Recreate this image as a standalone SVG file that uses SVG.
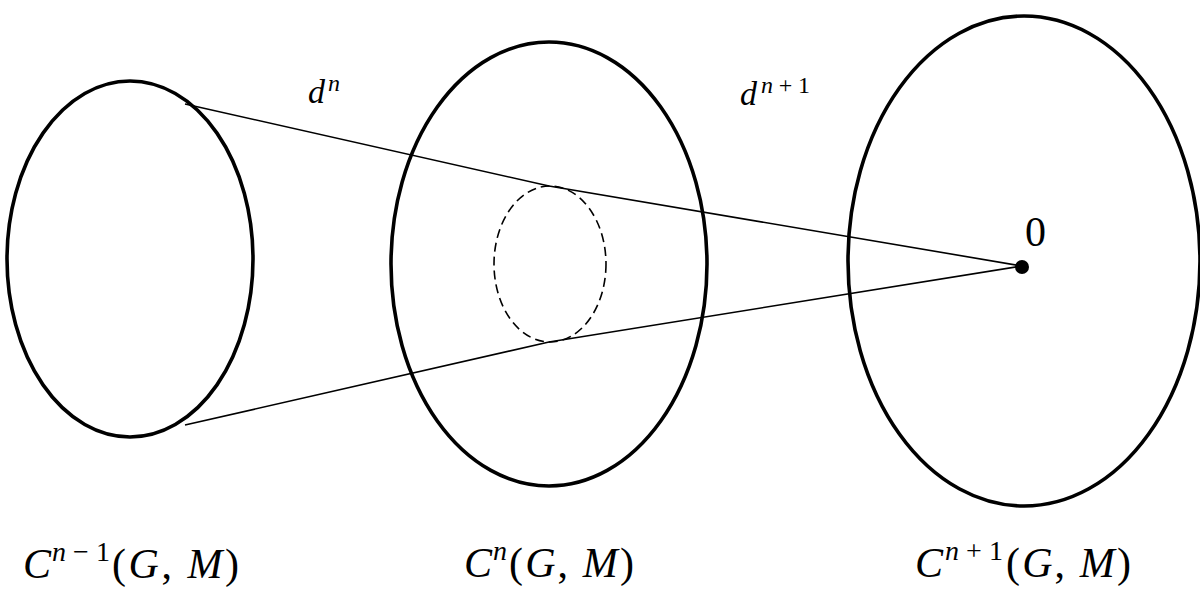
<svg xmlns="http://www.w3.org/2000/svg" width="1200" height="609" viewBox="0 0 1200 609">
<style>
.big{fill:none;stroke:#000;stroke-width:3.6}
.dash{fill:none;stroke:#000;stroke-width:1.6;stroke-dasharray:9 5}
.ln{fill:none;stroke:#000;stroke-width:1.6}
text{font-family:"Liberation Serif","DejaVu Serif",serif;fill:#000}
.it{font-style:italic}
.lab{font-size:42px}
.sup{font-size:28px}
.dl{font-size:34px}
.ds{font-size:24px}
</style>
<rect width="1200" height="609" fill="#fff"/>
<g id="connectors">
<polyline class="ln" points="185,104 549,186 1022,266"/>
<polyline class="ln" points="185,425 549,342 1022,266"/>
</g>
<g id="node-cn-1">
<ellipse class="big" cx="130" cy="259" rx="123" ry="178"/>
<text class="lab it" x="23" y="578">C</text>
<text class="sup" x="52" y="561" textLength="58" lengthAdjust="spacing"><tspan class="it">n</tspan>−1</text>
<text class="lab" x="112" y="578" textLength="127" lengthAdjust="spacing">(<tspan class="it">G</tspan>, <tspan class="it">M</tspan>)</text>
</g>
<g id="node-cn">
<ellipse class="big" cx="549" cy="264" rx="158" ry="222"/>
<ellipse class="dash" cx="550" cy="264" rx="56" ry="78"/>
<text class="lab it" x="464" y="577">C</text>
<text class="sup it" x="493" y="560">n</text>
<text class="lab" x="509" y="577" textLength="125" lengthAdjust="spacing">(<tspan class="it">G</tspan>, <tspan class="it">M</tspan>)</text>
</g>
<g id="node-cn+1">
<ellipse class="big" cx="1024" cy="261" rx="176" ry="245"/>
<circle cx="1022" cy="267" r="7" fill="#000"/>
<text class="lab" x="1025" y="246">0</text>
<text class="lab it" x="915" y="577">C</text>
<text class="sup" x="945" y="560" textLength="58" lengthAdjust="spacing"><tspan class="it">n</tspan>+1</text>
<text class="lab" x="1006" y="577" textLength="125" lengthAdjust="spacing">(<tspan class="it">G</tspan>, <tspan class="it">M</tspan>)</text>
</g>
<g id="label-dn">
<text class="dl it" x="308" y="103">d</text>
<text class="ds it" x="328" y="91">n</text>
</g>
<g id="label-dn1">
<text class="dl it" x="740" y="105">d</text>
<text class="ds" x="761" y="93" textLength="49" lengthAdjust="spacing"><tspan class="it">n</tspan>+1</text>
</g>
</svg>
